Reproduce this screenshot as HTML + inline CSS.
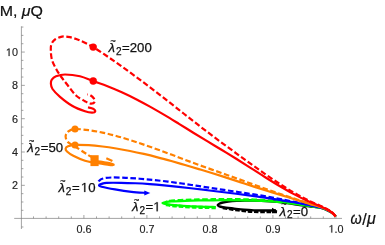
<!DOCTYPE html>
<html><head><meta charset="utf-8"><title>plot</title>
<style>
html,body{margin:0;padding:0;background:#fff;}
body{width:385px;height:245px;overflow:hidden;font-family:"Liberation Sans",sans-serif;}
svg{display:block;will-change:transform;}
</style></head><body>
<svg width="385" height="245" viewBox="0 0 385 245">
<rect width="385" height="245" fill="#fff"/>
<g stroke="#7d7d7d" stroke-width="0.7" fill="none">
<path d="M21.40 26.3V229"/>
<path d="M14.2 218.40H342"/>
<path d="M21.40 226.98h2.00"/>
<path d="M21.40 210.32h2.00"/>
<path d="M21.40 201.99h2.00"/>
<path d="M21.40 193.66h2.00"/>
<path d="M21.40 185.33h3.40"/>
<path d="M21.40 177.00h2.00"/>
<path d="M21.40 168.67h2.00"/>
<path d="M21.40 160.34h2.00"/>
<path d="M21.40 152.01h3.40"/>
<path d="M21.40 143.68h2.00"/>
<path d="M21.40 135.35h2.00"/>
<path d="M21.40 127.02h2.00"/>
<path d="M21.40 118.69h3.40"/>
<path d="M21.40 110.36h2.00"/>
<path d="M21.40 102.03h2.00"/>
<path d="M21.40 93.70h2.00"/>
<path d="M21.40 85.37h3.40"/>
<path d="M21.40 77.04h2.00"/>
<path d="M21.40 68.71h2.00"/>
<path d="M21.40 60.38h2.00"/>
<path d="M21.40 52.05h3.40"/>
<path d="M21.40 43.72h2.00"/>
<path d="M21.40 35.39h2.00"/>
<path d="M21.40 27.06h2.00"/>
<path d="M33.50 218.40v-2.00"/>
<path d="M46.10 218.40v-2.00"/>
<path d="M58.70 218.40v-2.00"/>
<path d="M71.30 218.40v-2.00"/>
<path d="M83.90 218.40v-3.40"/>
<path d="M96.50 218.40v-2.00"/>
<path d="M109.10 218.40v-2.00"/>
<path d="M121.70 218.40v-2.00"/>
<path d="M134.30 218.40v-2.00"/>
<path d="M146.90 218.40v-3.40"/>
<path d="M159.50 218.40v-2.00"/>
<path d="M172.10 218.40v-2.00"/>
<path d="M184.70 218.40v-2.00"/>
<path d="M197.30 218.40v-2.00"/>
<path d="M209.90 218.40v-3.40"/>
<path d="M222.50 218.40v-2.00"/>
<path d="M235.10 218.40v-2.00"/>
<path d="M247.70 218.40v-2.00"/>
<path d="M260.30 218.40v-2.00"/>
<path d="M272.90 218.40v-3.40"/>
<path d="M285.50 218.40v-2.00"/>
<path d="M298.10 218.40v-2.00"/>
<path d="M310.70 218.40v-2.00"/>
<path d="M323.30 218.40v-2.00"/>
<path d="M335.90 218.40v-3.40"/>
</g>
<g font-family="Liberation Sans, sans-serif" font-size="10.8" fill="#222" stroke="#222" stroke-width="0.15">
<text x="11.89" y="189.33" font-size="10.8">2</text>
<text x="11.89" y="156.01" font-size="10.8">4</text>
<text x="11.89" y="122.69" font-size="10.8">6</text>
<text x="11.89" y="89.37" font-size="10.8">8</text>
<path d="M515 0V1237L197 1010V1180L530 1409H696V0Z" transform="translate(5.89 56.05) scale(0.00527 -0.00527)" stroke-width="37.9"/><text x="11.89" y="56.05" font-size="10.8">0</text>
<text x="76.59" y="232.60" font-size="10.8">0.6</text>
<text x="139.59" y="232.60" font-size="10.8">0.7</text>
<text x="202.59" y="232.60" font-size="10.8">0.8</text>
<text x="265.59" y="232.60" font-size="10.8">0.9</text>
<path d="M515 0V1237L197 1010V1180L530 1409H696V0Z" transform="translate(328.59 232.60) scale(0.00527 -0.00527)" stroke-width="37.9"/><text x="334.60" y="232.60" font-size="10.8">.0</text>
</g>
<g font-family="Liberation Sans, sans-serif" font-size="16" fill="#111" stroke="#111" stroke-width="0.2">
<text transform="translate(-0.3 16) scale(1.1 1)" font-size="14.5">M, <tspan font-style="italic">μ</tspan>Q</text>
<text transform="translate(350.4 223.8) scale(0.9 1)" font-style="italic">ω</text>
<text x="362.2" y="224.5">/</text>
<text x="367" y="223.8" font-style="italic">μ</text>
</g>
<g stroke-linecap="butt" stroke-linejoin="round">
<path d="M335.60 216.60C335.25 216.17 334.55 214.88 333.50 214.00C332.45 213.12 331.12 212.23 329.30 211.30C327.48 210.37 325.10 209.13 322.60 208.40C320.10 207.67 317.07 207.33 314.30 206.90C311.53 206.47 308.95 206.20 306.00 205.80C303.05 205.40 300.27 205.05 296.60 204.50C292.93 203.95 288.43 203.03 284.00 202.50C279.57 201.97 275.00 201.63 270.00 201.30C265.00 200.97 258.17 200.62 254.00 200.50C249.83 200.38 247.90 200.53 245.00 200.60C242.10 200.67 239.38 200.73 236.60 200.90C233.82 201.07 230.60 201.33 228.30 201.60C226.00 201.87 224.30 202.15 222.80 202.50C221.30 202.85 220.15 203.27 219.30 203.70C218.45 204.13 217.70 204.65 217.70 205.10C217.70 205.55 218.45 206.05 219.30 206.40C220.15 206.75 220.52 206.85 222.80 207.20C225.08 207.55 229.47 208.07 233.00 208.50C236.53 208.93 240.50 209.48 244.00 209.80C247.50 210.12 250.50 210.28 254.00 210.40C257.50 210.52 261.33 210.48 265.00 210.50C268.67 210.52 274.17 210.50 276.00 210.50" fill="none" stroke="#000000" stroke-width="2.4" />
<path d="M222.80 207.90C224.50 208.17 229.47 209.00 233.00 209.50C236.53 210.00 240.50 210.55 244.00 210.90C247.50 211.25 250.50 211.45 254.00 211.60C257.50 211.75 261.17 211.77 265.00 211.80C268.83 211.83 275.00 211.80 277.00 211.80" fill="none" stroke="#000000" stroke-width="2.8" stroke-dasharray="4.5 1.8" />
<path d="M335.60 216.60C335.25 216.17 334.55 214.90 333.50 214.00C332.45 213.10 331.12 212.15 329.30 211.20C327.48 210.25 326.00 209.17 322.60 208.30C319.20 207.44 313.45 206.72 308.87 206.00C304.30 205.28 299.72 204.59 295.15 203.99C290.57 203.38 285.99 202.83 281.42 202.37C276.84 201.92 272.27 201.54 267.69 201.23C263.12 200.93 258.54 200.72 253.96 200.56C249.39 200.40 244.81 200.33 240.24 200.28C235.66 200.22 231.08 200.22 226.51 200.22C221.93 200.22 217.36 200.24 212.78 200.29C208.21 200.33 203.63 200.38 199.05 200.46C194.48 200.55 189.90 200.64 185.33 200.78C180.75 200.91 174.82 201.08 171.60 201.28C168.38 201.48 167.53 201.71 166.00 202.00C164.47 202.29 162.40 202.65 162.40 203.00C162.40 203.35 164.47 203.78 166.00 204.10C167.53 204.42 168.73 204.60 171.60 204.90C174.47 205.20 178.48 205.60 183.20 205.90C187.92 206.20 194.52 206.52 199.90 206.70C205.28 206.88 212.90 206.95 215.50 207.00" fill="none" stroke="#00ff00" stroke-width="2.2" />
<path d="M335.60 216.60C335.25 216.17 334.55 214.90 333.50 214.00C332.45 213.10 331.12 212.18 329.30 211.20C327.48 210.22 326.00 209.04 322.60 208.11C319.20 207.18 313.45 206.41 308.87 205.63C304.30 204.85 299.72 204.08 295.15 203.41C290.57 202.74 285.99 202.12 281.42 201.61C276.84 201.09 272.27 200.65 267.69 200.31C263.12 199.96 258.54 199.72 253.96 199.53C249.39 199.34 244.81 199.26 240.24 199.19C235.66 199.12 231.08 199.11 226.51 199.11C221.93 199.12 217.36 199.15 212.78 199.20C208.21 199.26 203.63 199.34 199.05 199.45C194.48 199.56 189.90 199.68 185.33 199.86C180.75 200.03 174.82 200.19 171.60 200.48C168.38 200.77 166.93 201.41 166.00 201.60" fill="none" stroke="#00ff00" stroke-width="2.2" stroke-dasharray="5.6 2.6" />
<path d="M166.00 204.60C166.93 204.75 168.73 205.18 171.60 205.50C174.47 205.82 178.48 206.20 183.20 206.50C187.92 206.80 194.47 207.12 199.90 207.30C205.33 207.48 213.15 207.55 215.80 207.60" fill="none" stroke="#00ff00" stroke-width="3.2" stroke-dasharray="4.5 2" />
<path d="M335.60 216.60C335.25 216.17 334.55 214.92 333.50 214.00C332.45 213.08 331.12 212.10 329.30 211.10C327.48 210.10 326.12 209.00 322.60 207.99C319.08 206.97 313.00 205.97 308.20 205.02C303.40 204.06 298.60 203.14 293.80 202.27C289.00 201.40 284.20 200.57 279.40 199.79C274.60 199.00 269.80 198.28 265.00 197.58C260.20 196.88 255.40 196.24 250.60 195.61C245.80 194.98 241.00 194.38 236.20 193.78C231.40 193.17 226.60 192.58 221.80 191.99C217.00 191.39 212.20 190.80 207.40 190.22C202.60 189.63 197.80 189.04 193.00 188.48C188.20 187.91 183.40 187.33 178.60 186.81C173.80 186.29 169.00 185.78 164.20 185.33C159.40 184.88 154.60 184.47 149.80 184.13C145.00 183.78 140.20 183.48 135.40 183.26C130.60 183.05 125.80 182.88 121.00 182.81C116.20 182.75 109.83 182.68 106.60 182.86C103.37 183.04 102.87 183.51 101.60 183.90C100.33 184.29 99.00 184.73 99.00 185.20C99.00 185.67 98.93 186.00 101.60 186.70C104.27 187.40 110.02 188.55 115.00 189.40C119.98 190.25 126.33 191.22 131.50 191.80C136.67 192.38 143.58 192.72 146.00 192.90" fill="none" stroke="#0000ff" stroke-width="2.2" />
<path d="M335.60 216.60C335.25 216.17 334.55 214.93 333.50 214.00C332.45 213.07 331.12 212.03 329.30 211.00C327.48 209.97 326.06 208.83 322.60 207.80C319.14 206.77 313.22 205.80 308.53 204.81C303.84 203.82 299.16 202.82 294.47 201.87C289.78 200.91 285.09 199.96 280.40 199.06C275.71 198.16 271.02 197.29 266.33 196.47C261.64 195.65 256.96 194.88 252.27 194.14C247.58 193.40 242.89 192.72 238.20 192.02C233.51 191.32 228.82 190.64 224.13 189.94C219.44 189.24 214.76 188.53 210.07 187.81C205.38 187.10 200.69 186.36 196.00 185.64C191.31 184.93 186.62 184.19 181.93 183.52C177.24 182.85 172.56 182.20 167.87 181.61C163.18 181.02 158.49 180.48 153.80 180.01C149.11 179.53 144.42 179.10 139.73 178.74C135.04 178.38 130.36 178.08 125.67 177.87C120.98 177.65 115.38 177.36 111.60 177.47C107.82 177.57 105.10 177.91 103.00 178.50C100.90 179.09 99.78 180.08 99.00 181.00C98.22 181.92 98.42 183.50 98.30 184.00" fill="none" stroke="#0000ff" stroke-width="2.2" stroke-dasharray="5.6 2.6" />
<path d="M335.60 216.60C335.25 216.17 334.55 214.95 333.50 214.00C332.45 213.05 331.12 211.95 329.30 210.90C327.48 209.85 326.01 208.91 322.60 207.69C319.19 206.47 313.43 204.97 308.84 203.58C304.26 202.20 299.67 200.78 295.09 199.38C290.50 197.97 285.92 196.57 281.33 195.16C276.75 193.76 272.16 192.36 267.58 190.94C262.99 189.51 258.41 188.07 253.82 186.61C249.24 185.14 244.65 183.63 240.07 182.13C235.48 180.64 230.90 179.11 226.31 177.63C221.73 176.16 217.14 174.69 212.56 173.27C207.97 171.85 203.39 170.46 198.80 169.09C194.21 167.72 189.63 166.37 185.04 165.03C180.46 163.69 175.87 162.35 171.29 161.06C166.70 159.78 162.12 158.51 157.53 157.33C152.95 156.14 148.36 155.00 143.78 153.94C139.19 152.89 134.61 151.90 130.02 150.99C125.44 150.07 120.85 149.23 116.27 148.48C111.68 147.73 107.10 147.03 102.51 146.48C97.93 145.94 93.34 145.46 88.76 145.19C84.17 144.92 78.46 144.69 75.00 144.87C71.54 145.06 69.57 145.68 68.00 146.30C66.43 146.92 65.77 147.73 65.60 148.60C65.43 149.47 65.72 150.30 67.00 151.50C68.28 152.70 70.30 154.25 73.30 155.80C76.30 157.35 81.55 159.67 85.00 160.80C88.45 161.93 91.83 162.20 94.00 162.60C96.17 163.00 96.33 162.93 98.00 163.20C99.67 163.47 102.17 163.90 104.00 164.20C105.83 164.50 107.58 164.83 109.00 165.00C110.42 165.17 111.73 165.28 112.50 165.20C113.27 165.12 113.85 164.77 113.60 164.50C113.35 164.23 112.27 163.92 111.00 163.60C109.73 163.28 107.73 162.92 106.00 162.60C104.27 162.28 101.93 161.92 100.60 161.70C99.27 161.48 98.43 161.37 98.00 161.30" fill="none" stroke="#ff8000" stroke-width="2.2" />
<path d="M335.60 216.60C335.25 216.15 334.55 214.87 333.50 213.90C332.45 212.93 331.12 211.88 329.30 210.80C327.48 209.72 326.01 208.70 322.60 207.45C319.19 206.20 313.43 204.74 308.84 203.32C304.26 201.89 299.67 200.41 295.09 198.91C290.50 197.41 285.92 195.88 281.33 194.32C276.75 192.76 272.16 191.17 267.58 189.56C262.99 187.94 258.41 186.29 253.82 184.64C249.24 182.98 244.65 181.30 240.07 179.64C235.48 177.98 230.90 176.33 226.31 174.69C221.73 173.06 217.14 171.46 212.56 169.84C207.97 168.21 203.39 166.60 198.80 164.93C194.21 163.26 189.63 161.53 185.04 159.80C180.46 158.08 175.87 156.29 171.29 154.57C166.70 152.85 162.12 151.13 157.53 149.47C152.95 147.81 148.36 146.19 143.78 144.62C139.19 143.05 134.61 141.51 130.02 140.07C125.44 138.63 120.85 137.22 116.27 135.97C111.68 134.73 107.10 133.55 102.51 132.59C97.93 131.63 93.34 130.78 88.76 130.19C84.17 129.59 78.29 128.87 75.00 129.01C71.71 129.15 70.50 130.09 69.00 131.00C67.50 131.91 66.53 133.33 66.00 134.50C65.47 135.67 65.42 136.68 65.80 138.00C66.18 139.32 66.77 140.98 68.30 142.40C69.83 143.82 72.22 144.73 75.00 146.50C77.78 148.27 82.38 151.32 85.00 153.00C87.62 154.68 89.03 155.73 90.70 156.60C92.37 157.47 94.28 157.93 95.00 158.20" fill="none" stroke="#ff8000" stroke-width="2.2" stroke-dasharray="5.6 2.6" />
<path d="M106.3 158.2L112.4 160.9" stroke="#ff8000" stroke-width="2.2" fill="none"/>
<path d="M335.50 216.50C335.17 216.07 334.53 214.87 333.50 213.90C332.47 212.93 331.22 211.85 329.30 210.70C327.38 209.55 325.60 208.59 322.00 206.99C318.40 205.38 312.47 203.27 307.70 201.09C302.93 198.91 298.17 196.46 293.40 193.90C288.63 191.35 283.87 188.59 279.10 185.77C274.33 182.95 269.57 179.97 264.80 176.98C260.03 173.99 255.27 170.86 250.50 167.83C245.73 164.79 240.97 161.74 236.20 158.77C231.43 155.81 226.67 152.93 221.90 150.03C217.13 147.14 212.37 144.31 207.60 141.42C202.83 138.54 198.07 135.64 193.30 132.72C188.53 129.80 183.77 126.80 179.00 123.88C174.23 120.95 169.47 117.99 164.70 115.16C159.93 112.32 155.17 109.53 150.40 106.86C145.63 104.20 140.87 101.62 136.10 99.19C131.33 96.75 126.57 94.43 121.80 92.26C117.03 90.09 112.27 88.04 107.50 86.19C102.73 84.34 97.78 82.79 93.20 81.14C88.62 79.49 84.70 77.41 80.00 76.30C75.30 75.19 69.00 74.50 65.00 74.50C61.00 74.50 58.20 75.45 56.00 76.30C53.80 77.15 52.65 78.40 51.80 79.60C50.95 80.80 50.78 81.93 50.90 83.50C51.02 85.07 50.98 86.78 52.50 89.00C54.02 91.22 56.67 93.97 60.00 96.80C63.33 99.63 68.33 103.58 72.50 106.00C76.67 108.42 81.75 110.20 85.00 111.30C88.25 112.40 90.30 112.57 92.00 112.60C93.70 112.63 95.02 112.13 95.20 111.50C95.38 110.87 94.30 109.50 93.10 108.80C91.90 108.10 88.85 107.55 88.00 107.30" fill="none" stroke="#ff0000" stroke-width="2.2" />
<path d="M335.50 216.40C335.17 215.95 334.53 214.70 333.50 213.70C332.47 212.70 331.22 211.58 329.30 210.40C327.38 209.22 325.60 208.32 322.00 206.60C318.40 204.89 312.47 202.48 307.70 200.09C302.93 197.71 298.17 195.07 293.40 192.30C288.63 189.53 283.87 186.55 279.10 183.48C274.33 180.40 269.57 177.14 264.80 173.83C260.03 170.53 255.27 167.08 250.50 163.66C245.73 160.24 240.97 156.78 236.20 153.31C231.43 149.84 226.67 146.37 221.90 142.84C217.13 139.31 212.37 135.76 207.60 132.14C202.83 128.52 198.07 124.83 193.30 121.12C188.53 117.40 183.77 113.61 179.00 109.86C174.23 106.11 169.47 102.33 164.70 98.62C159.93 94.91 155.17 91.23 150.40 87.60C145.63 83.98 140.87 80.41 136.10 76.90C131.33 73.38 126.57 69.91 121.80 66.51C117.03 63.12 112.27 59.77 107.50 56.53C102.73 53.30 97.78 49.77 93.20 47.10C88.62 44.43 83.87 42.15 80.00 40.50C76.13 38.85 73.00 37.85 70.00 37.20C67.00 36.55 64.50 36.22 62.00 36.60C59.50 36.98 56.75 38.27 55.00 39.50C53.25 40.73 52.20 42.25 51.50 44.00C50.80 45.75 50.72 47.33 50.80 50.00C50.88 52.67 51.02 56.67 52.00 60.00C52.98 63.33 55.08 67.08 56.70 70.00C58.32 72.92 59.90 75.00 61.70 77.50C63.50 80.00 65.12 82.00 67.50 85.00C69.88 88.00 73.08 92.80 76.00 95.50C78.92 98.20 82.57 99.85 85.00 101.20C87.43 102.55 88.97 103.50 90.60 103.60C92.23 103.70 94.32 102.73 94.80 101.80C95.28 100.87 94.33 99.15 93.50 98.00C92.67 96.85 90.83 95.52 89.80 94.90C88.77 94.28 87.72 94.40 87.30 94.30" fill="none" stroke="#ff0000" stroke-width="2.2" stroke-dasharray="5.6 2.6" />
</g>
<circle cx="93.2" cy="47.1" r="3.7" fill="#ff0000"/>
<circle cx="93.2" cy="81" r="3.7" fill="#ff0000"/>
<circle cx="75" cy="129.1" r="3.5" fill="#ff8000"/>
<circle cx="75" cy="145" r="3.5" fill="#ff8000"/>
<rect x="90.45" y="155.2" width="8.2" height="10.9" fill="#ff8000"/>
<path d="M144.3 190.5L150.3 193L144.3 195.4Z" fill="#0000ff"/>
<path d="M272 207.8L277.6 210.9L272 213.6Z" fill="#000000"/>
<g font-family="Liberation Sans, sans-serif" fill="#111" stroke="#111" stroke-width="0.25"><text x="108.50" y="52.10" font-size="13.2" font-style="italic">λ</text><text x="115.89" y="54.70" font-size="10">2</text><text x="122.05" y="52.10" font-size="13.2">=</text><text x="129.76" y="52.10" font-size="13.2">200</text><text x="110.40" y="43.80" font-size="9">~</text></g>
<g font-family="Liberation Sans, sans-serif" fill="#111" stroke="#111" stroke-width="0.25"><text x="27.20" y="152.00" font-size="13.2" font-style="italic">λ</text><text x="34.59" y="154.60" font-size="10">2</text><text x="40.75" y="152.00" font-size="13.2">=</text><text x="48.46" y="152.00" font-size="13.2">50</text><text x="29.10" y="143.70" font-size="9">~</text></g>
<g font-family="Liberation Sans, sans-serif" fill="#111" stroke="#111" stroke-width="0.25"><text x="58.40" y="192.00" font-size="13.2" font-style="italic">λ</text><text x="65.79" y="194.60" font-size="10">2</text><text x="71.95" y="192.00" font-size="13.2">=</text><path d="M515 0V1237L197 1010V1180L530 1409H696V0Z" transform="translate(80.86 192.00) scale(0.00645 -0.00645)" stroke-width="31.0"/><text x="88.20" y="192.00" font-size="13.2">0</text><text x="60.30" y="183.70" font-size="9">~</text></g>
<g font-family="Liberation Sans, sans-serif" fill="#111" stroke="#111" stroke-width="0.25"><text x="132.00" y="211.30" font-size="13.2" font-style="italic">λ</text><text x="139.39" y="213.90" font-size="10">2</text><text x="145.55" y="211.30" font-size="13.2">=</text><path d="M515 0V1237L197 1010V1180L530 1409H696V0Z" transform="translate(153.26 211.30) scale(0.00645 -0.00645)" stroke-width="31.0"/><text x="133.90" y="203.00" font-size="9">~</text></g>
<g font-family="Liberation Sans, sans-serif" fill="#111" stroke="#111" stroke-width="0.25"><text x="279.50" y="215.70" font-size="13.2" font-style="italic">λ</text><text x="286.89" y="218.30" font-size="10">2</text><text x="293.05" y="215.70" font-size="13.2">=</text><text x="300.76" y="215.70" font-size="13.2">0</text><text x="281.40" y="207.40" font-size="9">~</text></g>
</svg>
</body></html>
